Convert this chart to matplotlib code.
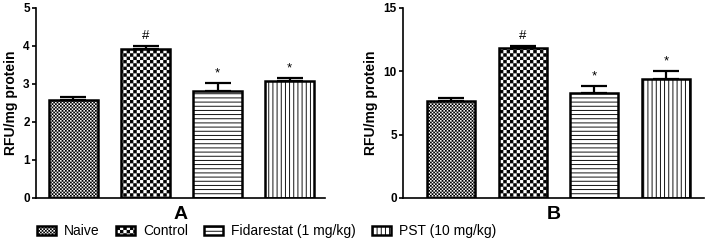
import numpy as np
import matplotlib
matplotlib.use("Agg")
import matplotlib.pyplot as plt
import matplotlib.hatch as mhatch
from matplotlib.path import Path

# ---------------- data ----------------
groups = ["Naive", "Control", "Fidarestat (1 mg/kg)", "PST (10 mg/kg)"]
values_A = [2.57, 3.90, 2.80, 3.07]
errors_A = [0.08, 0.10, 0.21, 0.08]
values_B = [7.60, 11.78, 8.30, 9.40]
errors_B = [0.25, 0.22, 0.55, 0.60]
marks = ["", "#", "*", "*"]
panel_labels = ["A", "B"]
yticks_A = [0, 1, 2, 3, 4, 5]
yticks_B = [0, 5, 10, 15]


# ---------------- custom checker hatches ----------------
def make_checker(char, periods, margin):
    class Checker(mhatch.HatchPatternBase):
        def __init__(self, hatch, density):
            self.n = periods if char in hatch else 0
            self.num_vertices = 2 * self.n * self.n * 5

        def set_vertices_and_codes(self, vertices, codes):
            n2 = 2 * self.n
            s = 1.0 / n2
            k = 0
            for i in range(n2):
                for j in range(n2):
                    if (i + j) % 2:
                        continue
                    x0, y0 = i * s + margin, j * s + margin
                    x1, y1 = (i + 1) * s - margin, (j + 1) * s - margin
                    vertices[k:k + 5] = [[x0, y0], [x1, y0], [x1, y1], [x0, y1], [x0, y0]]
                    codes[k] = Path.MOVETO
                    codes[k + 1:k + 4] = Path.LINETO
                    codes[k + 4] = Path.CLOSEPOLY
                    k += 5
    return Checker


new_types = [t for t in mhatch._hatch_types
             if t.__name__ not in ("SmallCircles", "LargeCircles")]
new_types.append(make_checker("o", 30, 0.0042))   # fine checker (Naive)
new_types.append(make_checker("O", 15, 0.0042))   # coarse checker (Control)
mhatch._hatch_types[:] = new_types

hatches = ["o", "O", "----", "||||"]

plt.rcParams["hatch.linewidth"] = 0.65
plt.rcParams["font.family"] = ["Liberation Sans", "DejaVu Sans"]

fig = plt.figure(figsize=(7.05, 2.46), dpi=100)
axA = fig.add_axes([36 / 705, 1 - 198 / 246, (325 - 36) / 705, (198 - 7.5) / 246])
axB = fig.add_axes([403 / 705, 1 - 198 / 246, (704 - 403) / 705, (198 - 7.5) / 246])

x = np.arange(len(groups))
handles = None
for ax, vals, errs, yt, ymax, lab, xl, w in [
    (axA, values_A, errors_A, yticks_A, 5, panel_labels[0], (-0.52, 3.49), 0.68),
    (axB, values_B, errors_B, yticks_B, 15, panel_labels[1], (-0.67, 3.53), 0.67),
]:
    bars = ax.bar(x, vals, width=w, color="white", edgecolor="black",
                  linewidth=1.8, zorder=2)
    for b, h in zip(bars, hatches):
        b.set_hatch(h)
    ax.errorbar(x, vals, yerr=[np.zeros(len(vals)), errs], fmt="none",
                ecolor="black", elinewidth=1.6, capsize=9.5, capthick=1.6,
                zorder=1)
    for xi, v, e, m in zip(x, vals, errs, marks):
        if m:
            ax.annotate(m, (xi, v + e), xytext=(0, 2.5), textcoords="offset points",
                        ha="center", va="bottom", fontsize=9.5)
    ax.set_xlim(*xl)
    ax.set_ylim(0, ymax)
    ax.set_yticks(yt)
    ax.set_xticks([])
    for s in ["top", "right"]:
        ax.spines[s].set_visible(False)
    for s in ["left", "bottom"]:
        ax.spines[s].set_linewidth(1.2)
    ax.tick_params(axis="y", length=3, width=1.2, pad=1.5, labelsize=8.5)
    for t in ax.get_yticklabels():
        t.set_fontweight("bold")
    ax.set_ylabel("RFU/mg protein", fontsize=10, fontweight="bold", labelpad=4)
    ax.set_xlabel(lab, fontsize=14, fontweight="bold", labelpad=6)
    if handles is None:
        handles = bars

leg = fig.legend(handles, groups, loc="center", bbox_to_anchor=(0.378, 0.06),
                 ncol=4, frameon=False, handlelength=1.37, handleheight=0.58,
                 handletextpad=0.58, columnspacing=1.15, prop={"size": 10})

fig.savefig("out.png", dpi=100)
